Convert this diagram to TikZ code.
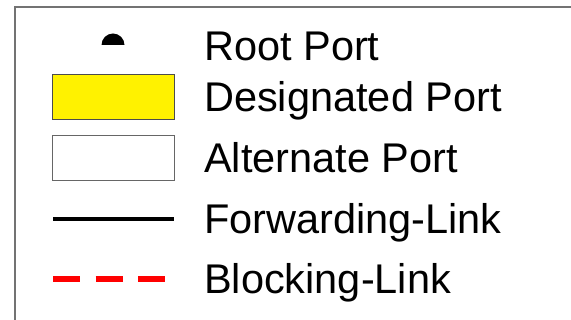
\documentclass[tikz,border=0pt]{standalone}
\usepackage{fontspec}
\setmainfont{Liberation Sans}
\begin{document}
\begin{tikzpicture}[x=1pt,y=-1pt,
  legendtext/.style={anchor=base west, inner sep=0pt, font=\fontsize{41.5}{48}\selectfont},
  frameline/.style={draw=black!55, line width=1.6pt},
  portbox/.style={draw=black!70, line width=1pt}]
\useasboundingbox (0,0) rectangle (571,320);
% outer frame (open to the right and bottom)
\draw[frameline] (15,340) -- (15,7) -- (590,7);
% root port symbol: half disc, flat side down
\fill[black] (101.5,45) arc[start angle=180, end angle=360, radius=11.5] -- cycle;
% designated port: yellow box
\draw[portbox, fill=yellow] (52,75) rectangle (174,120);
% alternate port: white box
\draw[portbox, draw=black!60, fill=white] (52,136) rectangle (174,181);
% forwarding link
\coordinate (fwdA) at (53,219);
\coordinate (fwdB) at (174,219);
\draw[black, line width=4pt] (fwdA) -- (fwdB);
% blocking link
\coordinate (blkA) at (53,279);
\coordinate (blkB) at (165,279);
\draw[red, line width=6pt, dash pattern=on 27pt off 15.5pt] (blkA) -- (blkB);
% labels
\node[legendtext] (root) at (204,61) {Root Port};
\node[legendtext] (desig) at (204,112) {Designated Port};
\node[legendtext] (alt) at (204,172.5) {Alternate Port};
\node[legendtext] (fwd) at (204,233.5) {Forwarding-Link};
\node[legendtext] (blk) at (204,294) {Blocking-Link};
\end{tikzpicture}
\end{document}
